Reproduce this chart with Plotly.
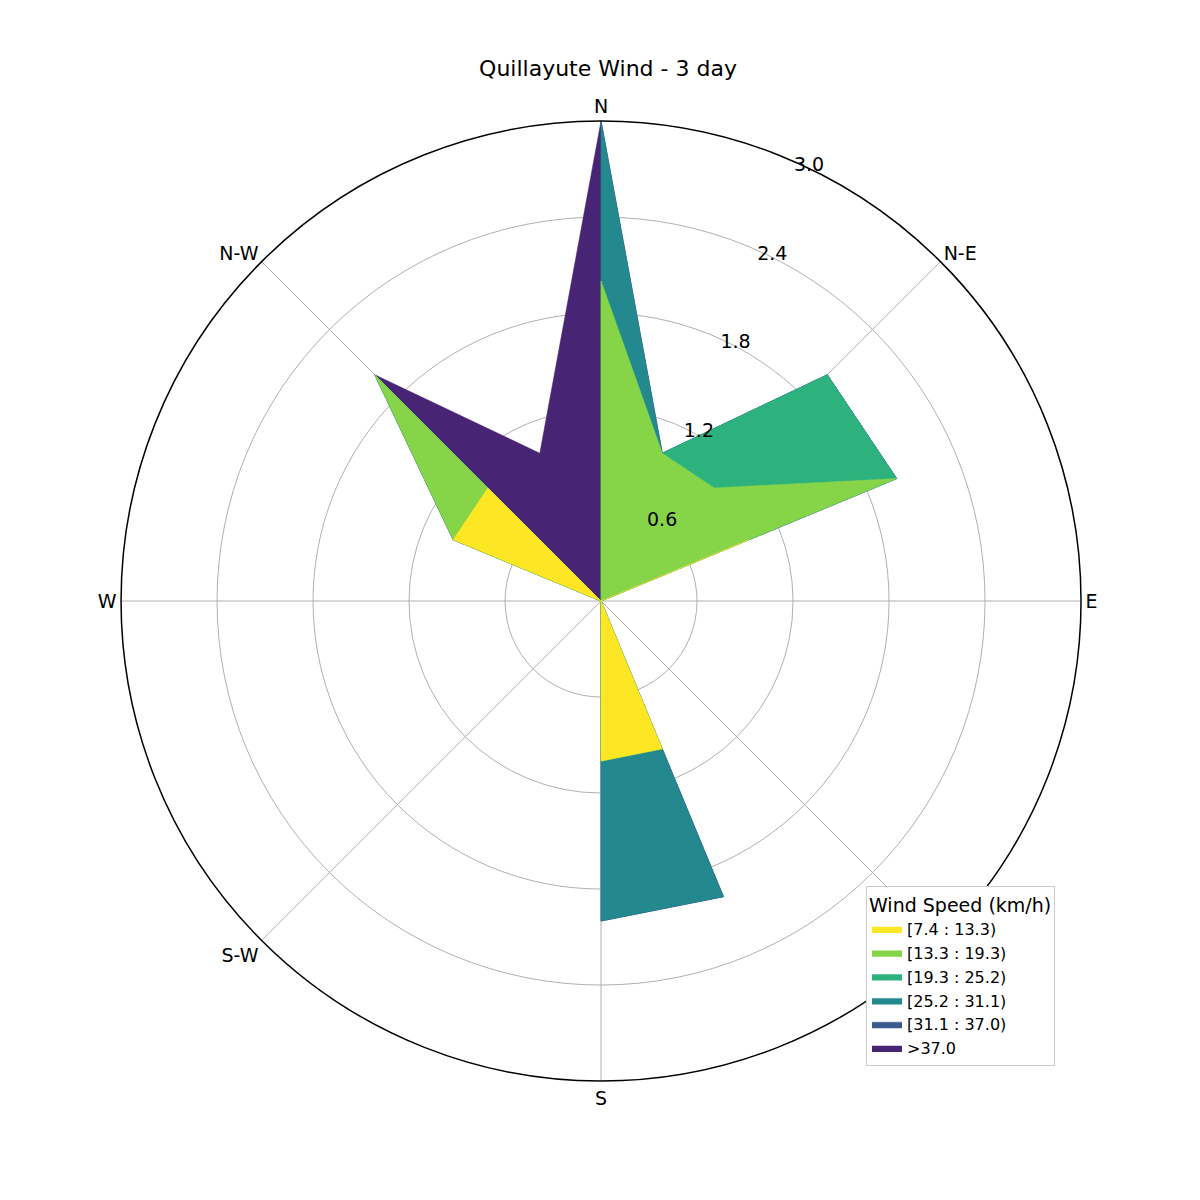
import plotly.graph_objects as go
import numpy as np

directions = ["N", "NNE", "NE", "ENE", "E", "ESE", "SE", "SSE",
              "S", "SSW", "SW", "WSW", "W", "WNW", "NW", "NNW"]
angles = [i * 22.5 for i in range(16)]

bins = ["[7.4 : 13.3)", "[13.3 : 19.3)", "[19.3 : 25.2)",
        "[25.2 : 31.1)", "[31.1 : 37.0)", ">37.0"]
colors = ["#fde725", "#86d549", "#2db27d", "#23898e", "#3b5a8c", "#482475"]

# frequency per direction for each speed bin (not cumulative)
freq = [
    [0, 0, 0, 1, 0, 0, 0, 1, 1, 0, 0, 0, 0, 1, 1, 0],
    [2, 1, 1, 1, 0, 0, 0, 0, 0, 0, 0, 0, 0, 0, 1, 0],
    [0, 0, 1, 0, 0, 0, 0, 0, 0, 0, 0, 0, 0, 0, 0, 0],
    [1, 0, 0, 0, 0, 0, 0, 1, 1, 0, 0, 0, 0, 0, 0, 0],
    [0, 0, 0, 0, 0, 0, 0, 0, 0, 0, 0, 0, 0, 0, 0, 0],
    [0, 0, 0, 0, 0, 0, 0, 0, 0, 0, 0, 0, 0, 0, 0, 1],
]

cum = np.cumsum(np.array(freq, dtype=float), axis=0)

fig = go.Figure()
# draw largest cumulative layer first so smaller ones sit on top
traces = []
for i in range(len(bins)):
    r = list(cum[i]) + [cum[i][0]]
    th = angles + [angles[0]]
    traces.append(go.Scatterpolar(
        r=r, theta=th, mode="lines", fill="toself",
        fillcolor=colors[i], line=dict(color=colors[i], width=0.5),
        name=bins[i], legendrank=i + 1,
    ))
for t in reversed(traces):
    fig.add_trace(t)

fig.update_layout(
    width=1200, height=1200,
    paper_bgcolor="white",
    margin=dict(l=0, r=0, t=0, b=0),
    title=dict(text="Quillayute Wind - 3 day", x=0.5, xanchor="center",
               y=0.95, yanchor="middle",
               font=dict(family="DejaVu Sans", size=22, color="black")),
    font=dict(family="DejaVu Sans", size=18, color="black"),
    polar=dict(
        domain=dict(x=[0.0942, 0.8942], y=[0.1058, 0.9058]),
        bgcolor="white",
        angularaxis=dict(
            rotation=90, direction="clockwise",
            tickmode="array",
            tickvals=[0, 45, 90, 135, 180, 225, 270, 315],
            ticktext=["N", "N-E", "E", "S-E", "S", "S-W", "W", "N-W"],
            showgrid=True, gridcolor="#b0b0b0", gridwidth=1.2,
            showline=True, linecolor="black", linewidth=1.5,
            ticks="", tickfont=dict(size=19),
        ),
        radialaxis=dict(
            range=[0, 3.0], tickmode="array",
            tickvals=[0.6, 1.2, 1.8, 2.4, 3.0],
            ticktext=["0.6", "1.2", "1.8", "2.4", "3.0"],
            angle=67.5, tickangle=67.5,
            showline=False, ticks="",
            showgrid=True, gridcolor="#b0b0b0", gridwidth=1.2,
            tickfont=dict(size=19),
        ),
    ),
    legend=dict(
        x=0.715, y=0.268, xanchor="left", yanchor="top",
        bgcolor="white", bordercolor="#cccccc", borderwidth=1,
        title=dict(text="Wind Speed (km/h)", font=dict(size=19)),
        font=dict(size=16),
        traceorder="normal",
    ),
)

fig.write_html("out.html")
